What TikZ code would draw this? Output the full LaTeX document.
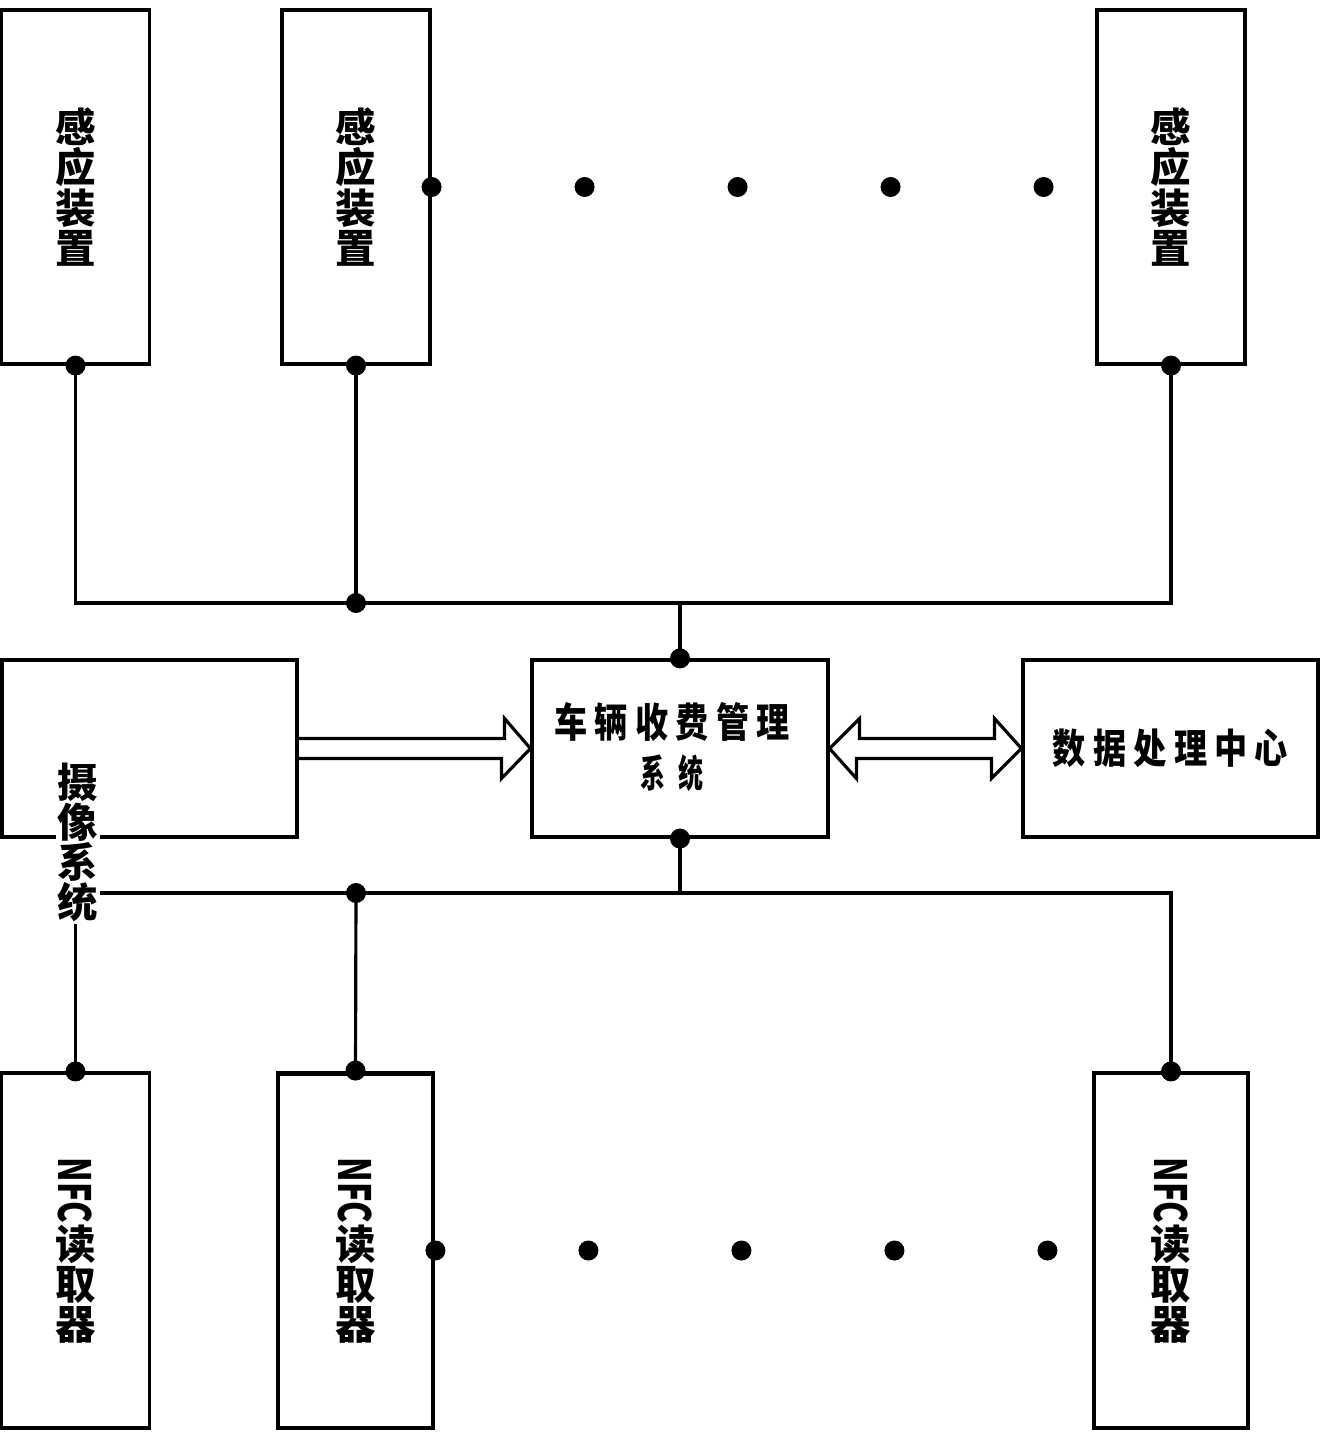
\documentclass[tikz,border=0pt]{standalone}
\usepackage{fontspec}
\usepackage{graphicx}
\usetikzlibrary{calc}
\newfontfamily\cjk{Noto Sans CJK SC}
\newfontfamily\cjkwide{Noto Sans CJK SC}[FakeStretch=0.82,LetterSpace=18]
\newfontfamily\cjknarrow{Noto Sans CJK SC}[FakeStretch=0.66]

\begin{document}
\begin{tikzpicture}[x=0.02cm, y=-0.02cm, line width=1.8pt,
    box/.style={draw, rectangle, inner sep=0pt},
    tallbox/.style={box, minimum width=2.96cm, minimum height=7.08cm},
    widebox/.style={box, minimum width=5.9cm, minimum height=3.54cm},
    vtext/.style={font=\cjk\bfseries\fontsize{23}{22.8}\selectfont, align=center, inner sep=0pt},
    htext/.style={font=\cjkwide\bfseries\fontsize{23}{28.5}\selectfont, align=center}]
    \useasboundingbox (0,0) rectangle (1320,1440);

    % sensing devices
    \node[tallbox, vtext] (s1) at (75.5,187) {感\\应\\装\\置};
    \node[tallbox, vtext] (s2) at (356,187) {感\\应\\装\\置};
    \node[tallbox, vtext] (s3) at (1171,187) {感\\应\\装\\置};

    % middle row
    \node[widebox] (cam) at (149.5,748.5) {};
    \node[widebox, minimum width=5.92cm] (ctr) at (680,748.5) {};
    \node[widebox, htext] (dc) at (1170.5,748.5) {数据处理中心};
    \node[htext, inner sep=0pt] (ctrtxt) at (672,747) {车辆收费管理\\{\cjknarrow\bfseries\fontsize{21.5}{28.5}\selectfont 系\hspace{0.26cm}统}};

    % NFC readers
    \node[tallbox, vtext, minimum height=7.1cm] (n1) at (75.5,1250.5) {\rotatebox{-90}{\scalebox{0.8}[1.1]{NFC}}\\读\\取\\器};
    \node[tallbox, vtext, minimum width=3.1cm, minimum height=7.1cm, line width=2.8pt] (n2) at (355.5,1250.5) {\rotatebox{-90}{\scalebox{0.8}[1.1]{NFC}}\\读\\取\\器};
    \node[tallbox, vtext, minimum width=3.08cm, minimum height=7.1cm] (n3) at (1171,1250.5) {\rotatebox{-90}{\scalebox{0.8}[1.1]{NFC}}\\读\\取\\器};

    % top bus
    \coordinate (tb) at (356,603);
    \draw (s1.south) |- (tb) -- (tb -| s3.south) -- (s3.south);
    \draw (s2.south) -- (tb);
    \draw (ctr.north) -- (ctr.north |- tb);

    % bottom bus
    \coordinate (bb) at (356,893);
    \draw (n1.north) |- (bb) -- (bb -| n3.north) -- (n3.north);
    \draw (n2.north) -- (bb);
    \draw (ctr.south) -- (ctr.south |- bb);

    % hollow arrows
    \draw (cam.east) ++(0,-10) -- ++(206,0) -- ++(0,-20) -- (ctr.west) -- ++(-29,30) -- ++(0,-20) -- ++(-206,0);
    \draw (ctr.east) -- ++(30,-30) -- ++(0,20) -- ++(135,0) -- ++(0,-20) -- (dc.west)
        -- ++(-30,30) -- ++(0,-20) -- ++(-135,0) -- ++(0,20) -- cycle;

    \node[vtext, fill=white, inner sep=1pt] (camtxt) at (78,842.5) {摄\\像\\系\\统};

    % dots
    \foreach \p in {s1.south, s2.south, s3.south, tb, ctr.north, ctr.south, bb, n1.north, n2.north, n3.north, s2.east, n2.east}
        \fill (\p) circle (0.2cm);
    \foreach \i in {1,...,4} {
        \fill ($(s2.east)+(\i*153,0)$) circle (0.2cm);
        \fill ($(n2.east)+(\i*153,0)$) circle (0.2cm);
    }
\end{tikzpicture}
\end{document}
